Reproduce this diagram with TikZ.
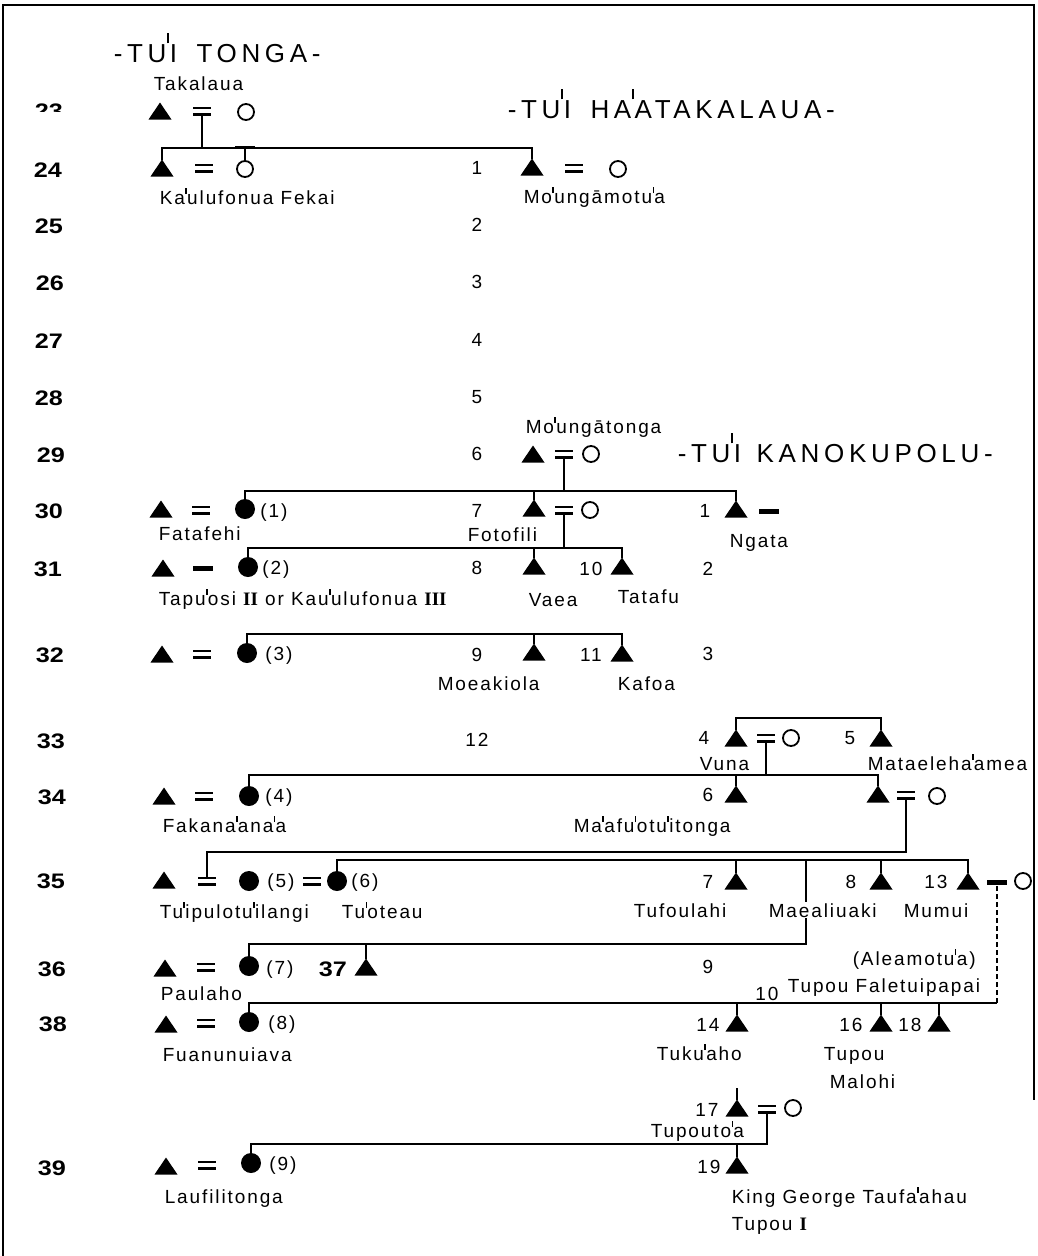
\documentclass[tikz,border=0pt]{standalone}
\usepackage{fontspec}
\usetikzlibrary{calc}
\setmainfont{Liberation Sans}
\newfontfamily\namefont{Liberation Sans}[LetterSpace=10]
\newfontfamily\titlefont{Liberation Sans}[LetterSpace=18]
\newfontfamily\romfont{Liberation Serif}
\newcommand\gs{\kern0.02em\rule[0.52em]{0.08em}{0.33em}\kern0.02em}
\newcommand\gsT{\kern0.03em\rule[0.72em]{0.07em}{0.38em}\kern0.03em}
\newcommand\rn[1]{{\romfont\bfseries #1}}
\newcommand\gn[1]{\scalebox{1.2}[1]{#1}}
\begin{document}
\begin{tikzpicture}[x=1pt,y=-1pt,line width=1.5pt,
 tri/.style={inner sep=0pt,outer sep=0pt,minimum width=23pt,minimum height=17pt},
 eqs/.style={inner sep=0pt,outer sep=0pt,minimum width=18pt,minimum height=9pt},
 bar/.style={fill,inner sep=0pt,outer sep=0pt,minimum width=20pt,minimum height=5pt},
 ocirc/.style={circle,draw,line width=1.8pt,inner sep=0pt,outer sep=0pt,minimum size=16pt},
 fcirc/.style={circle,fill,inner sep=0pt,outer sep=0pt,minimum size=20pt},
 nm/.style={font=\namefont\fontsize{19}{22}\selectfont,inner sep=0pt,anchor=base west},
 num/.style={font=\namefont\fontsize{19}{22}\selectfont,inner sep=0pt,anchor=base},
 gen/.style={font=\bfseries\fontsize{21}{24}\selectfont,inner sep=0pt,anchor=base},
 ttl/.style={font=\titlefont\fontsize{26}{30}\selectfont,inner sep=0pt,anchor=base west}]
\useasboundingbox (0,0) rectangle (1038,1256);
\draw[line width=1.6pt] (3,1256) -- (3,5) -- (1034,5) -- (1034,1100);

% ---------- symbols ----------
\node[tri] (T23) at (160,111) {};
\node[eqs] (E23) at (202,111) {};
\node[ocirc] (W23) at (246,112) {};
\node[tri] (T24) at (162,168) {};
\node[eqs] (E24) at (204,168) {};
\node[ocirc] (W24) at (245,169) {};
\node[tri] (M24) at (532,167) {};
\node[eqs] (E24b) at (574,168) {};
\node[ocirc] (W24b) at (618,169) {};
\node[tri] (T29) at (533,454) {};
\node[eqs] (E29) at (564,454) {};
\node[ocirc] (W29) at (591,454) {};
\node[tri] (T30L) at (161,509) {};
\node[eqs] (E30L) at (201,510) {};
\node[fcirc] (F30) at (245,509) {};
\node[tri] (T30) at (534,508) {};
\node[eqs] (E30) at (564,510) {};
\node[ocirc] (W30) at (590,510) {};
\node[tri] (T30N) at (736,509) {};
\node[bar] (B30N) at (769,511) {};
\node[tri] (T31L) at (163,568) {};
\node[bar] (B31L) at (203,568) {};
\node[fcirc] (F31) at (248,567) {};
\node[tri] (T31a) at (534,566) {};
\node[tri] (T31b) at (622,566) {};
\node[tri] (T32L) at (162,654) {};
\node[eqs] (E32L) at (202,654) {};
\node[fcirc] (F32) at (247,653) {};
\node[tri] (T32a) at (534,652) {};
\node[tri] (T32b) at (622,653) {};
\node[tri] (T33a) at (736,738) {};
\node[eqs] (E33) at (766,738) {};
\node[ocirc] (W33) at (791,738) {};
\node[tri] (T33b) at (881,738) {};
\node[tri] (T34L) at (164,796) {};
\node[eqs] (E34L) at (204,796) {};
\node[fcirc] (F34) at (249,796) {};
\node[tri] (T34a) at (736,794) {};
\node[tri] (T34b) at (878,794) {};
\node[eqs] (E34) at (906,795) {};
\node[ocirc] (W34) at (937,796) {};
\node[tri] (T35L) at (164,880) {};
\node[eqs] (E35L) at (207,881) {};
\node[fcirc] (F35a) at (249,881) {};
\node[eqs] (E35m) at (312,881) {};
\node[fcirc] (F35b) at (337,881) {};
\node[tri] (T35a) at (736,881) {};
\node[tri] (T35b) at (881,881) {};
\node[tri] (T35c) at (968,881) {};
\node[bar] (B35) at (997,882) {};
\node[ocirc] (W35) at (1023,881) {};
\node[tri] (T36L) at (165,968) {};
\node[eqs] (E36L) at (206,967) {};
\node[fcirc] (F36) at (249,966) {};
\node[tri] (T37) at (366,967) {};
\node[tri] (T38L) at (166,1024) {};
\node[eqs] (E38L) at (206,1023) {};
\node[fcirc] (F38) at (249,1022) {};
\node[tri] (T38a) at (737,1023) {};
\node[tri] (T38b) at (881,1023) {};
\node[tri] (T38c) at (939,1023) {};
\node[tri] (T17) at (737,1108) {};
\node[eqs] (E17) at (767,1109) {};
\node[ocirc] (W17) at (793,1108) {};
\node[tri] (T39L) at (166,1166) {};
\node[eqs] (E39L) at (207,1165) {};
\node[fcirc] (F39) at (251,1163) {};
\node[tri] (T19) at (737,1165) {};

% ---------- bus levels ----------
\coordinate (b1) at (0,148);
\coordinate (b2) at (0,491);
\coordinate (b3) at (0,548);
\coordinate (b4) at (0,634);
\coordinate (b5) at (0,718);
\coordinate (b6) at (0,775);
\coordinate (b7) at (0,852);
\coordinate (b8) at (0,860);
\coordinate (b9) at (0,944);
\coordinate (b10) at (0,1003);
\coordinate (b11) at (0,1144);
\coordinate (maeL) at (806,944);
\coordinate (c17) at (737,1088);

% ---------- connectors ----------
\draw (E23.south) -- (E23.south |- b1);
\draw (T24.north) -- (T24.north |- b1) -- (M24.north |- b1) -- (M24.north);
\draw (W24.north) -- (W24.north |- b1);
\draw[line width=2.2pt] ($(W24.north |- b1)+(-10,-1)$) -- ++(20,0);
\draw (E29.south) -- (E29.south |- b2);
\draw (F30.north) -- (F30.north |- b2) -- (T30N.north |- b2) -- (T30N.north);
\draw (T30.north) -- (T30.north |- b2);
\draw (E30.south) -- (E30.south |- b3);
\draw (F31.north) -- (F31.north |- b3) -- (T31b.north |- b3) -- (T31b.north);
\draw (T31a.north) -- (T31a.north |- b3);
\draw (F32.north) -- (F32.north |- b4) -- (T32b.north |- b4) -- (T32b.north);
\draw (T32a.north) -- (T32a.north |- b4);
\draw (T33a.north) -- (T33a.north |- b5) -- (T33b.north |- b5) -- (T33b.north);
\draw (E33.south) -- (E33.south |- b6);
\draw (F34.north) -- (F34.north |- b6) -- (T34b.north |- b6) -- (T34b.north);
\draw (T34a.north) -- (T34a.north |- b6);
\draw (E34.south) -- (E34.south |- b7) -- (E35L.north |- b7) -- (E35L.north);
\draw (F35b.north) -- (F35b.north |- b8) -- (T35c.north |- b8) -- (T35c.north);
\draw (T35a.north) -- (T35a.north |- b8);
\draw (T35b.north) -- (T35b.north |- b8);
\draw (maeL |- b8) -- (maeL) -- (F36.north |- b9) -- (F36.north);
\draw (T37.north) -- (T37.north |- b9);
\draw (F38.north) -- (F38.north |- b10) -- (B35.south |- b10);
\draw[dash pattern=on 5pt off 3pt] (B35.south |- b10) -- (B35.south);
\draw (T38a.north) -- (T38a.north |- b10);
\draw (T38b.north) -- (T38b.north |- b10);
\draw (T38c.north) -- (T38c.north |- b10);
\draw (c17) -- (T17.north);
\draw (E17.south) -- (E17.south |- b11) -- (F39.north |- b11) -- (F39.north);
\draw (T19.north) -- (T19.north |- b11);

% ---------- symbol fills ----------
\foreach \n in {T23,T24,M24,T29,T30L,T30,T30N,T31L,T31a,T31b,T32L,T32a,T32b,T33a,T33b,T34L,T34a,T34b,T35L,T35a,T35b,T35c,T36L,T37,T38L,T38a,T38b,T38c,T17,T39L,T19}
  \fill (\n.south west) -- (\n.south east) -- (\n.north) -- cycle;
\foreach \n in {E23,E24,E24b,E29,E30L,E30,E32L,E33,E34L,E34,E35L,E35m,E36L,E38L,E17,E39L}
  {\fill (\n.north west) rectangle ([yshift=-2.6pt]\n.north east);
   \fill ([yshift=2.6pt]\n.south west) rectangle (\n.south east);}

% ---------- titles ----------
\node[ttl] (t1) at (113,62) {-TU\gsT I\hspace{0.75em}TONGA-};
\node[ttl] (t2) at (507,118) {-TU\gsT I\hspace{0.75em}HA\gsT ATAKALAUA-};
\node[ttl] (t3) at (677,462) {-TU\gsT I\hspace{0.6em}KANOKUPOLU-};

% ---------- generation numbers ----------
\begin{scope}
\clip (0,0) rectangle (100,111);
\node[gen] (g23) at (49,118) {\gn{23}};
\end{scope}
\node[gen] (g24) at (48,177) {\gn{24}};
\node[gen] (g25) at (49,233) {\gn{25}};
\node[gen] (g26) at (50,290) {\gn{26}};
\node[gen] (g27) at (49,348) {\gn{27}};
\node[gen] (g28) at (49,405) {\gn{28}};
\node[gen] (g29) at (51,462) {\gn{29}};
\node[gen] (g30) at (49,518) {\gn{30}};
\node[gen] (g31) at (48,576) {\gn{31}};
\node[gen] (g32) at (50,662) {\gn{32}};
\node[gen] (g33) at (51,748) {\gn{33}};
\node[gen] (g34) at (52,804) {\gn{34}};
\node[gen] (g35) at (51,888) {\gn{35}};
\node[gen] (g36) at (52,976) {\gn{36}};
\node[gen] (g37) at (333,976) {\gn{37}};
\node[gen] (g38) at (53,1031) {\gn{38}};
\node[gen] (g39) at (52,1175) {\gn{39}};

% ---------- small numbers ----------
\node[num] (n1) at (477,174) {1};
\node[num] (n2) at (477,231) {2};
\node[num] (n3) at (477,288) {3};
\node[num] (n4) at (477,346) {4};
\node[num] (n5) at (477,403) {5};
\node[num] (n6) at (477,460) {6};
\node[num] (n7) at (477,517) {7};
\node[num] (n8) at (477,574) {8};
\node[num] (n9) at (477,661) {9};
\node[num] (n12) at (477,746) {12};
\node[num] (n10) at (591,575) {10};
\node[num] (n11) at (591,661) {11};
\node[num] (k1) at (705,517) {1};
\node[num] (k2) at (708,575) {2};
\node[num] (k3) at (708,660) {3};
\node[num] (k4) at (704,744) {4};
\node[num] (k5) at (850,744) {5};
\node[num] (k6) at (708,801) {6};
\node[num] (k7) at (708,888) {7};
\node[num] (k8) at (851,888) {8};
\node[num] (k13) at (936,888) {13};
\node[num] (k9) at (708,973) {9};
\node[num] (k10) at (767,1000) {10};
\node[num] (k14) at (708,1031) {14};
\node[num] (k16) at (851,1031) {16};
\node[num] (k18) at (910,1031) {18};
\node[num] (k17) at (707,1116) {17};
\node[num] (k19) at (709,1173) {19};
\node[num] (p1) at (274,517) {(1)};
\node[num] (p2) at (276,574) {(2)};
\node[num] (p3) at (279,660) {(3)};
\node[num] (p4) at (279,802) {(4)};
\node[num] (p5) at (281,887) {(5)};
\node[num] (p6) at (365,887) {(6)};
\node[num] (p7) at (280,974) {(7)};
\node[num] (p8) at (282,1029) {(8)};
\node[num] (p9) at (283,1170) {(9)};

% ---------- names ----------
\node[nm] (l1) at (153,90) {Takalaua};
\node[nm] (l2) at (159,204) {Ka\gs ulufonua Fekai};
\node[nm] (l3) at (523,203) {Mo\gs ungāmotu\gs a};
\node[nm] (l4) at (525,433) {Mo\gs ungātonga};
\node[nm] (l5) at (158,540) {Fatafehi};
\node[nm] (l6) at (467,541) {Fotofili};
\node[nm] (l7) at (729,547) {Ngata};
\node[nm] (l8) at (158,605) {Tapu\gs osi \rn{II} or Kau\gs ulufonua \rn{III}};
\node[nm] (l9) at (528,606) {Vaea};
\node[nm] (l10) at (617,603) {Tatafu};
\node[nm] (l11) at (437,690) {Moeakiola};
\node[nm] (l12) at (617,690) {Kafoa};
\node[nm] (l13) at (699,770) {Vuna};
\node[nm] (l14) at (867,770) {Mataeleha\gs amea};
\node[nm] (l15) at (162,832) {Fakana\gs ana\gs a};
\node[nm] (l16) at (573,832) {Ma\gs afu\gs otu\gs itonga};
\node[nm] (l17) at (159,918) {Tu\gs ipulotu\gs ilangi};
\node[nm] (l18) at (341,918) {Tu\gs oteau};
\node[nm] (l19) at (633,917) {Tufoulahi};
\node[nm,fill=white,inner sep=1pt] (l20) at (767,917) {Maealiuaki};
\node[nm] (l21) at (903,917) {Mumui};
\node[nm] (l22) at (160,1000) {Paulaho};
\node[nm] (l23) at (852,965) {(Aleamotu\gs a)};
\node[nm] (l24) at (787,992) {Tupou Faletuipapai};
\node[nm] (l25) at (162,1061) {Fuanunuiava};
\node[nm] (l26) at (656,1060) {Tuku\gs aho};
\node[nm] (l27) at (823,1060) {Tupou};
\node[nm] (l28) at (829,1088) {Malohi};
\node[nm] (l29) at (650,1137) {Tupouto\gs a};
\node[nm] (l30) at (164,1203) {Laufilitonga};
\node[nm] (l31) at (731,1203) {King George Taufa\gs ahau};
\node[nm] (l32) at (731,1230) {Tupou \rn{I}};
\end{tikzpicture}
\end{document}
